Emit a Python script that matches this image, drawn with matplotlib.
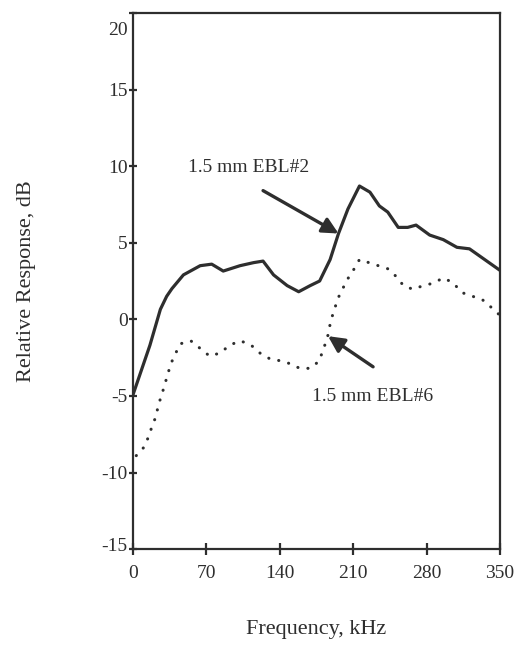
import matplotlib
matplotlib.use("Agg")
import matplotlib.pyplot as plt
import matplotlib.transforms as mtransforms

# EBL#2 (solid)
freq_ebl2 = [0, 16, 26, 32, 37, 48, 64, 75, 86, 102, 115, 124, 134, 147, 158,
             169, 178, 188, 196, 205, 216, 226, 235, 243, 253, 262, 270, 283,
             296, 309, 321, 350]
resp_ebl2 = [-4.9, -1.7, 0.65, 1.5, 2.0, 2.9, 3.5, 3.6, 3.15, 3.5, 3.7, 3.8, 2.9,
             2.2, 1.8, 2.2, 2.5, 3.9, 5.6, 7.2, 8.7, 8.3, 7.4, 7.0, 6.0, 6.0,
             6.15, 5.5, 5.2, 4.7, 4.6, 3.2]

# EBL#6 (dotted)
freq_ebl6 = [3, 11, 15, 18, 22, 24, 27, 30, 33, 36, 40, 45, 55, 64, 73, 83, 92,
             102, 112, 121, 131, 140, 150, 159, 169, 178, 181, 185, 187, 189,
             192, 195, 200, 205, 211, 216, 225, 234, 243, 251, 258, 267, 277,
             286, 296, 305, 314, 324, 333, 344, 350]
resp_ebl6 = [-8.9, -8.3, -7.6, -7.0, -6.3, -5.6, -5.0, -4.3, -3.6, -2.9, -2.3,
             -1.6, -1.4, -1.9, -2.4, -2.2, -1.7, -1.4, -1.65, -2.2, -2.6, -2.7,
             -2.9, -3.2, -3.2, -2.7, -2.0, -1.35, -0.65, 0.0, 0.6, 1.3, 2.0,
             2.66, 3.3, 3.9, 3.7, 3.5, 3.3, 2.8, 2.2, 1.96, 2.2, 2.35, 2.7,
             2.4, 1.74, 1.5, 1.3, 0.65, 0.26]

x_ticks = [0, 70, 140, 210, 280, 350]
y_ticks = [-15, -10, -5, 0, 5, 10, 15, 20]

label_ebl2 = "1.5 mm EBL#2"
label_ebl6 = "1.5 mm EBL#6"

plt.rcParams['font.family'] = ['Liberation Serif', 'DejaVu Serif']
ink = '#2e2e2e'

fig = plt.figure(figsize=(5.18, 6.46), dpi=100)
ax = fig.add_axes([0.257, 0.150, 0.708, 0.830])

ax.plot(freq_ebl2, resp_ebl2, color=ink, lw=2.3, solid_joinstyle='round')
ax.plot(freq_ebl6, resp_ebl6, color=ink, lw=2.2,
        linestyle=(0, (0.05, 3.3)), dash_capstyle='round')

ax.set_xlim(0, 350)
ax.set_ylim(-15, 20)
ax.set_xticks(x_ticks)
ax.set_yticks(y_ticks)
ax.set_xticklabels([str(v) for v in x_ticks])
ax.set_yticklabels([str(v) for v in y_ticks])

for s in ax.spines.values():
    s.set_linewidth(1.6)
    s.set_color(ink)

ax.tick_params(axis='x', direction='inout', length=9, width=1.6, pad=7,
               labelsize=14, colors=ink)
ax.tick_params(axis='y', direction='inout', length=6, width=1.6, pad=1,
               labelsize=14, colors=ink)

# top label sits inside the frame
lbls = ax.get_yticklabels()
off = mtransforms.ScaledTranslation(0, -16 / 100, fig.dpi_scale_trans)
lbls[-1].set_transform(lbls[-1].get_transform() + off)
off2 = mtransforms.ScaledTranslation(0, 5 / 100, fig.dpi_scale_trans)
lbls[0].set_transform(lbls[0].get_transform() + off2)

ax.set_xlabel("Frequency, kHz", fontsize=16, color=ink, labelpad=27)
ax.set_ylabel("Relative Response, dB", fontsize=16, color=ink, labelpad=47)

ax.text(52, 9.9, label_ebl2, fontsize=14, color=ink, va='center', ha='left')
ax.annotate("", xy=(196, 5.6), xytext=(124, 8.4),
            arrowprops=dict(arrowstyle='-|>', lw=2.4, color=ink,
                            mutation_scale=24, shrinkA=0, shrinkB=0))

ax.text(171, -5.05, label_ebl6, fontsize=14, color=ink, va='center', ha='left')
ax.annotate("", xy=(186, -1.1), xytext=(229, -3.1),
            arrowprops=dict(arrowstyle='-|>', lw=2.4, color=ink,
                            mutation_scale=24, shrinkA=0, shrinkB=0))

fig.savefig("out.png", dpi=100)
